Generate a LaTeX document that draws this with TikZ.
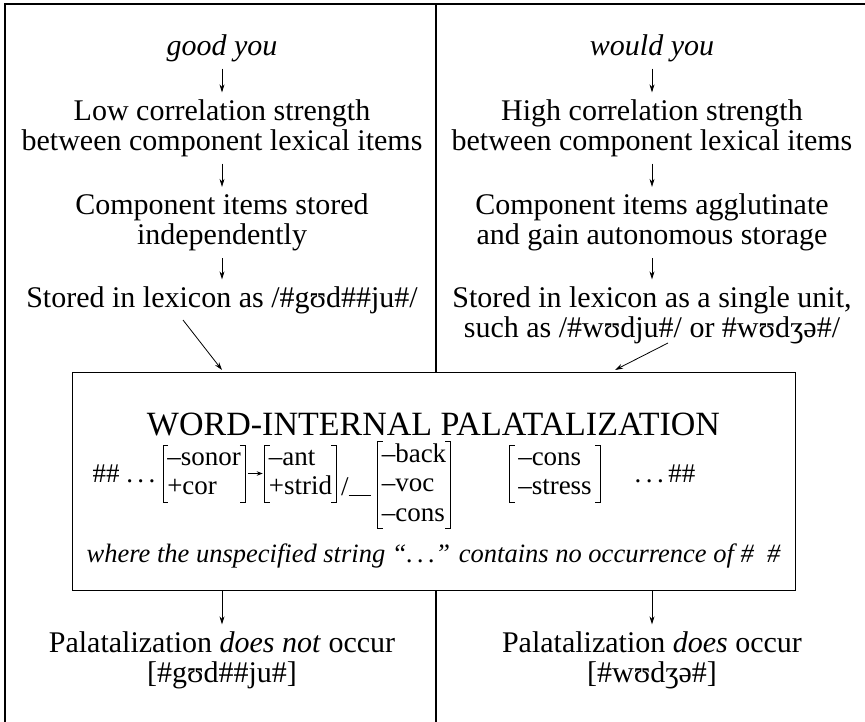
\documentclass[tikz,border=0pt]{standalone}
\usepackage{fontspec}
\setmainfont{Liberation Serif}
\usetikzlibrary{arrows.meta,calc}
\newcommand\fs{\rule[-7pt]{0pt}{27pt}}
\newcommand\drawbrackets[1]{%
  \draw[brk] ([xshift=5pt]#1.north west) -- (#1.north west) -- (#1.south west) -- ([xshift=5pt]#1.south west);
  \draw[brk] ([xshift=-5pt]#1.north east) -- (#1.north east) -- (#1.south east) -- ([xshift=-5pt]#1.south east);}
\begin{document}
\begin{tikzpicture}[x=1pt,y=-1pt,
  every node/.style={font=\fontsize{30}{30}\selectfont, inner sep=0pt},
  txt/.style={align=center, outer sep=7pt},
  rulefont/.style={font=\fontsize{27}{29.5}\selectfont},
  arr/.style={-{Stealth[length=8pt,width=5pt]}, line width=0.8pt},
  smallarr/.style={-{Stealth[length=6pt,width=4.5pt]}, line width=0.8pt},
  frame/.style={line width=1.6pt},
  rulebox/.style={draw, line width=1pt, minimum width=723pt, minimum height=218pt},
  feat/.style={rulefont, align=left, inner xsep=4pt, inner ysep=0pt},
  brk/.style={line width=0.8pt}]
\useasboundingbox (0,0) rectangle (865,722);
% frame
\coordinate (tl) at (5,4);
\coordinate (tr) at (865,4);
\coordinate (bl) at (5,722);
\coordinate (mt) at (436,4);
\coordinate (mb) at (436,722);
\draw[frame] (bl) -- (tl) -- (tr);
% rule box
\node[rulebox] (box) at (433.5,481) {};
\draw[frame] (mt) -- (mt |- box.north);
\draw[frame] (mt |- box.south) -- (mb);
% left column
\node[txt] (lgood) at (222,48) {\itshape good you};
\node[txt] (llow) at (222,128) {Low correlation strength\\between component lexical items};
\node[txt] (lcomp) at (222,222.5) {Component items stored\\independently};
\node[txt] (lstored) at (222,300) {Stored in lexicon as /\#gʊd\#\#ju\#/};
\node[txt] (lpal) at (222,660) {Palatalization \textit{does not} occur\\{[}\#gʊd\#\#ju\#{]}};
\draw[arr] (lgood) -- (llow);
\draw[arr] (llow) -- (lcomp);
\draw[arr] (lcomp) -- (lstored);
\draw[arr] (box.south -| lpal) -- (lpal);
% right column
\node[txt] (rgood) at (652,48) {\itshape would you};
\node[txt] (rhigh) at (652,128) {High correlation strength\\between component lexical items};
\node[txt] (rcomp) at (652,222.5) {Component items agglutinate\\and gain autonomous storage};
\node[txt] (rstored) at (652,315) {Stored in lexicon as a single unit,\\such as /\#wʊdju\#/ or \#wʊdʒə\#/};
\node[txt] (rpal) at (652,660) {Palatalization \textit{does} occur\\{[}\#wʊdʒə\#{]}};
\draw[arr] (rgood) -- (rhigh);
\draw[arr] (rhigh) -- (rcomp);
\draw[arr] (rcomp) -- (rstored);
\draw[arr] (box.south -| rpal) -- (rpal);
% diagonal arrows
\coordinate (la) at (183,320);
\coordinate (lb) at (222,370);
\coordinate (ra) at (668,343);
\coordinate (rb) at (615,370);
\draw[arr] (la) -- (lb);
\draw[arr] (ra) -- (rb);
% rule content
\node[font=\fontsize{34}{34}\selectfont] (title) at (433.5,424) {WORD-INTERNAL PALATALIZATION};
\node[rulefont] (hashl) at (124,474) {\#\# .\,.\,.};
\node[feat] (m1) at (204,473.5) {\fs–sonor\\\fs+cor};
\node[feat] (m2) at (300.5,473.5) {\fs–ant\\\fs+strid};
\node[rulefont, anchor=base west] (env) at (341,495) {/\rule[-1pt]{22pt}{0.8pt}};
\node[feat] (m3) at (414,485) {\fs–back\\\fs–voc\\\fs–cons};
\node[feat, minimum width=90pt] (m4) at (555,473.5) {\fs–cons\\\fs–stress};
\node[rulefont] (hashr) at (665,474) {.\,.\,.\,\#\#};
\drawbrackets{m1}
\drawbrackets{m2}
\drawbrackets{m3}
\drawbrackets{m4}
\draw[smallarr, shorten <=3pt, shorten >=2pt] (m1) -- (m2);
\node[font=\fontsize{26.5}{30}\selectfont] (where) at (433.5,556) {\itshape where the unspecified string “.\,.\,.” contains no occurrence of \#~~\#};
\end{tikzpicture}
\end{document}
